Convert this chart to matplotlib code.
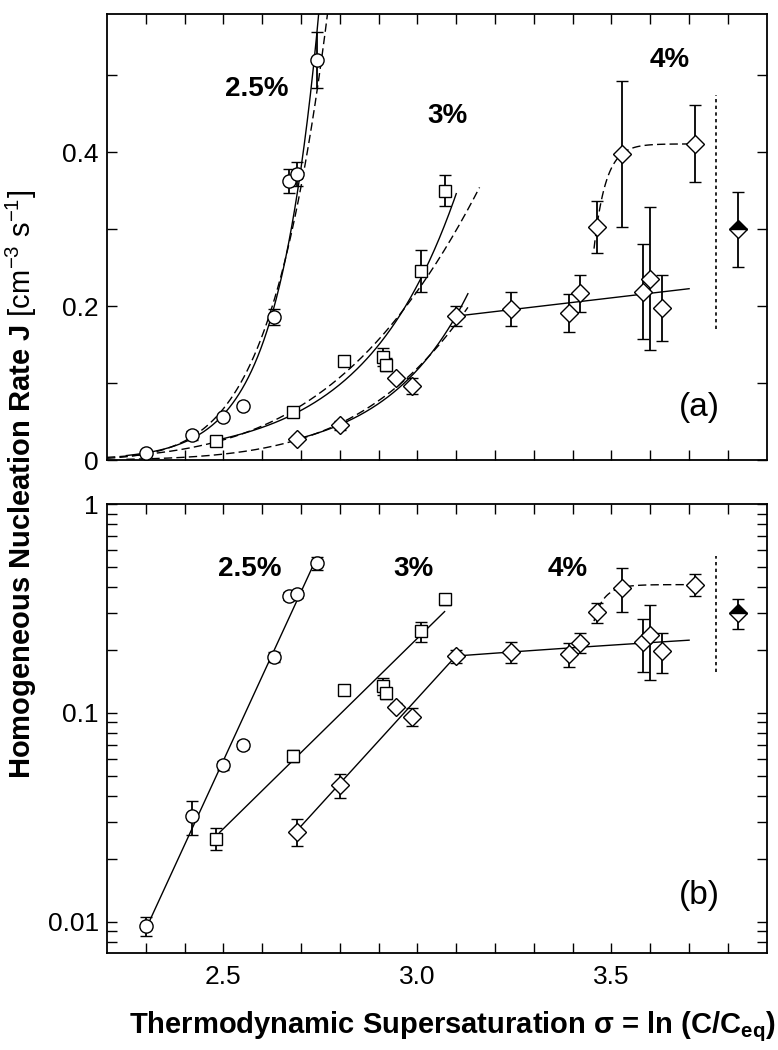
import matplotlib
matplotlib.use("Agg")
import matplotlib.pyplot as plt
import numpy as np

plt.rcParams['font.family'] = ['Liberation Sans', 'DejaVu Sans']
plt.rcParams['mathtext.fontset'] = 'custom'
plt.rcParams['mathtext.rm'] = 'Liberation Sans'
plt.rcParams['mathtext.bf'] = 'Liberation Sans:bold'
plt.rcParams['mathtext.it'] = 'Liberation Sans:italic'

# 2.5 % (circles)
s25 = [2.30, 2.42, 2.50, 2.55, 2.63, 2.67, 2.69, 2.74]
J25 = [0.0095, 0.032, 0.056, 0.070, 0.186, 0.363, 0.372, 0.52]
e25 = [0.001, 0.006, 0.003, 0.003, 0.010, 0.016, 0.016, 0.036]

# 3 % (squares)
s3 = [2.48, 2.68, 2.81, 2.91, 2.92, 3.01, 3.07]
J3 = [0.025, 0.062, 0.129, 0.134, 0.124, 0.246, 0.350]
e3 = [0.003, 0.004, 0.005, 0.012, 0.008, 0.027, 0.020]

# 4 % (open diamonds, lower branch)
s4 = [2.69, 2.80, 2.945, 2.985, 3.10, 3.24, 3.39, 3.42, 3.58, 3.60, 3.63]
J4 = [0.027, 0.045, 0.107, 0.096, 0.187, 0.196, 0.191, 0.217, 0.219, 0.236, 0.198]
e4 = [0.004, 0.006, 0.004, 0.010, 0.013, 0.022, 0.025, 0.024, 0.062, 0.093, 0.043]

# 4 % (open diamonds, upper branch)
s4u = [3.462, 3.526, 3.715]
J4u = [0.303, 0.398, 0.411]
e4u = [0.034, 0.095, 0.050]

# 4 % filled point
s4f = [3.825]
J4f = [0.300]
e4f = [0.049]

sep_x = 3.77
sep_top = [0.17, 0.475]
sep_bot = [0.156, 0.565]

xticks = [2.5, 3.0, 3.5]


def exp_fit(s, J):
    b, a = np.polyfit(s, np.log(J), 1)
    return lambda x: np.exp(a + b * np.asarray(x))


def cnt_fit(s, J):
    s = np.asarray(s)
    b, a = np.polyfit(1.0 / s**2, np.log(J), 1)
    return lambda x: np.exp(a + b / np.asarray(x)**2)


def sat_fit(s, J):
    Jm = max(J) * 1.0
    u0 = -np.log(1 - J[0] / (Jm * 1.001))
    u1 = -np.log(1 - J[1] / (Jm * 1.001))
    tau = (s[1] - s[0]) / (u1 - u0)
    s0 = s[0] - u0 * tau
    return lambda x: Jm * (1 - np.exp(-(np.asarray(x) - s0) / tau))


f25 = exp_fit(s25, J25)
g25 = cnt_fit(s25, J25)
f3 = exp_fit(s3, J3)
g3 = cnt_fit(s3, J3)
n_low = 5
f4 = exp_fit(s4[:n_low], J4[:n_low])
g4 = cnt_fit(s4[:n_low], J4[:n_low])
p4 = np.polyfit(s4[n_low - 1:], J4[n_low - 1:], 1)
fu = sat_fit(s4u, J4u)

fig = plt.figure(figsize=(7.78, 10.5), dpi=100)
ax1 = fig.add_axes([0.1375, 0.5619, 0.848, 0.4248])
ax2 = fig.add_axes([0.1375, 0.0927, 0.848, 0.4273])

mk = dict(mfc='white', mec='black', mew=1.0, ecolor='black', elinewidth=1.3,
          capsize=4, capthick=1.3, ls='none', zorder=3)

for ax in (ax1, ax2):
    ax.errorbar(s25, J25, yerr=e25, marker='o', ms=9.5, **mk)
    ax.errorbar(s3, J3, yerr=e3, marker='s', ms=8, **mk)
    ax.errorbar(s4, J4, yerr=e4, marker='D', ms=9.5, **mk)
    ax.errorbar(s4u, J4u, yerr=e4u, marker='D', ms=9.5, **mk)
    ax.errorbar(s4f, J4f, yerr=e4f, marker='D', ms=9.5, fillstyle='top',
                mfc='black', mfcalt='white', mec='black', mew=1.0, ecolor='black',
                elinewidth=1.3, capsize=4, capthick=1.3, ls='none', zorder=3)
    xp = np.linspace(s4[n_low - 1], 3.70, 20)
    ax.plot(xp, np.polyval(p4, xp), color='black', lw=1.0)
    xu = np.linspace(3.455, 3.72, 100)
    ax.plot(xu, fu(xu), color='black', lw=1.0, dashes=(6, 3))
    ax.set_xlim(2.2, 3.9)
    ax.set_xticks(xticks)
    ax.set_xticks(np.arange(2.3, 3.9, 0.1), minor=True)
    ax.tick_params(which='both', direction='in', top=True, right=True,
                   length=7, width=1.0, labelsize=19, pad=6)
    for sp in ax.spines.values():
        sp.set_linewidth(1.3)

# top panel: linear scale
x = np.linspace(2.25, 2.78, 200)
ax1.plot(x, f25(x), color='black', lw=1.0)
x = np.linspace(2.2, 2.78, 200)
ax1.plot(x, g25(x), color='black', lw=1.0, dashes=(6, 3))
x = np.linspace(2.48, 3.10, 200)
ax1.plot(x, f3(x), color='black', lw=1.0)
x = np.linspace(2.2, 3.16, 200)
ax1.plot(x, g3(x), color='black', lw=1.0, dashes=(6, 3))
x = np.linspace(2.68, 3.13, 200)
ax1.plot(x, f4(x), color='black', lw=1.0)
x = np.linspace(2.25, 3.13, 200)
ax1.plot(x, g4(x), color='black', lw=1.0, dashes=(6, 3))
ax1.plot([sep_x, sep_x], sep_top, color='black', lw=1.2, ls=(0, (2, 2)))
ax1.set_ylim(0, 0.58)
ax1.set_yticks([0, 0.2, 0.4])
ax1.set_yticklabels(['0', '0.2', '0.4'])
ax1.set_yticks([0.1, 0.3, 0.5], minor=True)
ax1.tick_params(labelbottom=False)

txt = dict(fontsize=20, fontweight='bold', ha='center', va='center')
ax1.text(2.586, 0.482, '2.5%', **txt)
ax1.text(3.078, 0.447, '3%', **txt)
ax1.text(3.651, 0.52, '4%', **txt)
ax1.text(3.726, 0.068, '(a)', fontsize=24, ha='center', va='center')

# bottom panel: log scale
x = np.linspace(2.30, 2.74, 50)
ax2.plot(x, f25(x), color='black', lw=1.0)
x = np.linspace(2.49, 3.07, 50)
ax2.plot(x, f3(x), color='black', lw=1.0)
x = np.linspace(2.69, 3.10, 50)
ax2.plot(x, f4(x), color='black', lw=1.0)
ax2.plot([sep_x, sep_x], sep_bot, color='black', lw=1.2, ls=(0, (2, 2)))
ax2.set_yscale('log')
ax2.set_ylim(0.0071, 1.0)
ax2.set_yticks([0.01, 0.1, 1])
ax2.set_yticklabels(['0.01', '0.1', '1'])
ax2.set_xticklabels(['2.5', '3.0', '3.5'])
ax2.tick_params(axis='x', pad=9)

ax2.text(2.568, 0.49, '2.5%', **txt)
ax2.text(2.99, 0.49, '3%', **txt)
ax2.text(3.387, 0.49, '4%', **txt)
ax2.text(3.726, 0.0133, '(b)', fontsize=24, ha='center', va='center')

fig.text(0.028, 0.539,
         r'Homogeneous Nucleation Rate J $[\mathrm{cm}^{-3}\ \mathrm{s}^{-1}]$',
         rotation=90, ha='center', va='center', fontsize=21, fontweight='bold')
fig.text(0.581, 0.022,
         r'Thermodynamic Supersaturation σ = ln (C/C$_{\mathbf{eq}}$)',
         ha='center', va='center', fontsize=21, fontweight='bold')

fig.savefig('out.png', dpi=100)
